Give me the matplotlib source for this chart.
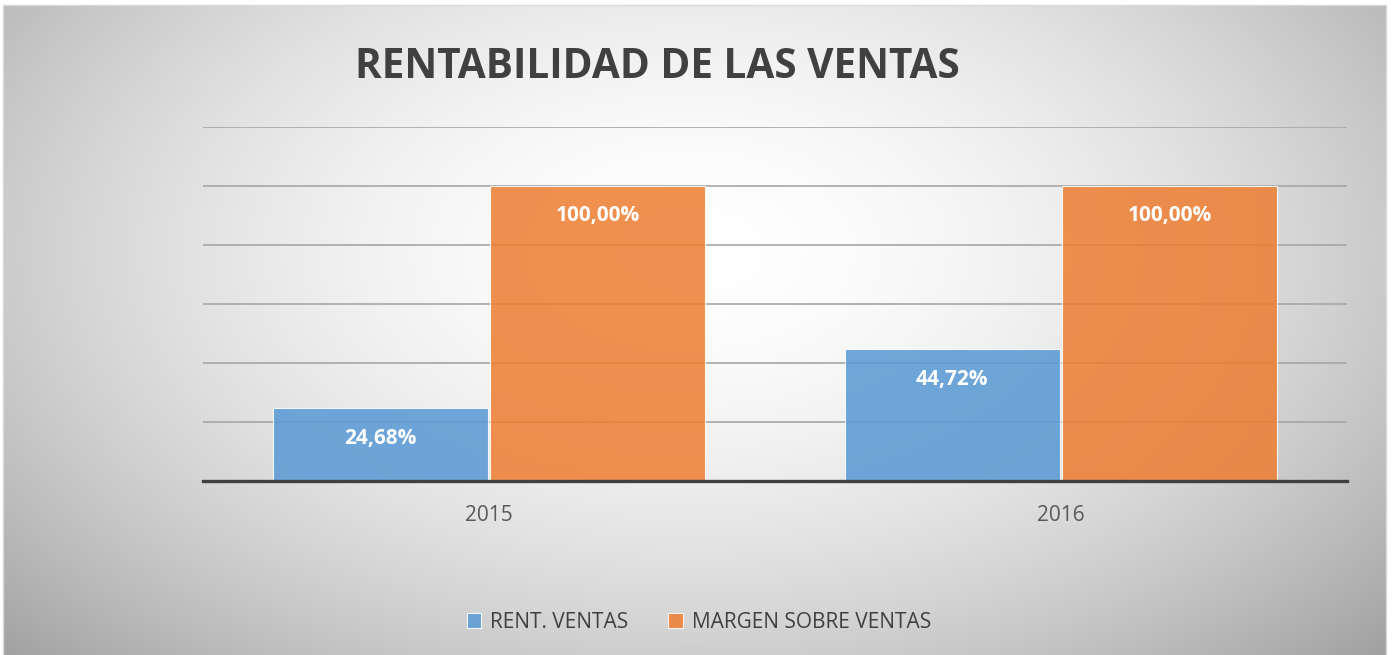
import numpy as np
import matplotlib
matplotlib.use("Agg")
import matplotlib.pyplot as plt

categories = ["2015", "2016"]
rent_ventas = [0.2468, 0.4472]
margen_ventas = [1.0, 1.0]
series_names = ["RENT. VENTAS", "MARGEN SOBRE VENTAS"]
title = "RENTABILIDAD DE LAS VENTAS"

W, H = 1394, 655
fig = plt.figure(figsize=(W / 100, H / 100), dpi=100)
fig.patch.set_facecolor("white")

# background gradient panel
bg = fig.add_axes([0, 0, 1, 1], zorder=0)
bg.set_xlim(0, W)
bg.set_ylim(H, 0)
bg.axis("off")
x0, x1, y0, y1 = 3, 1386, 5, 655
xs = np.linspace(x0, x1, 400)
ys = np.linspace(y0, y1, 200)
X, Y = np.meshgrid(xs, ys)
r = np.sqrt(((X - 690) / 740) ** 2 + ((Y - 250) / 450) ** 2)
val = 1.0 - 0.23 * np.clip(r, 0, 1.3) ** 1.8
img = np.dstack([val, val, val])
bg.imshow(img, extent=(x0, x1, y1, y0), aspect="auto", interpolation="bilinear")
bg.plot([x0, x1], [y0, y0], color="#d9d9d9", lw=1)
bg.plot([x0, x0], [y0, y1], color="#d9d9d9", lw=1)
bg.plot([x1, x1], [y0, y1], color="#d9d9d9", lw=1)

ax = fig.add_axes([203 / W, 1 - 481 / H, (1347 - 203) / W, (481 - 127) / H], zorder=1)
ax.patch.set_alpha(0)
ax.set_xlim(-0.5, 1.5)
ax.set_ylim(0, 1.2)
for s in ax.spines.values():
    s.set_visible(False)
ax.set_yticks(np.arange(0.2, 1.21, 0.2))
ax.yaxis.grid(True, color="#a6a6a6", lw=1.2)
ax.set_axisbelow(True)
ax.tick_params(axis="y", left=False, labelleft=False)
ax.tick_params(axis="x", length=0, pad=17, labelsize=15, labelcolor="#595959")

x = np.arange(len(categories))
w = 0.376
b1 = ax.bar(x - w / 2 - 0.002, rent_ventas, w, color="#5B9BD5", alpha=0.88,
            edgecolor="#ffffff", linewidth=0.8, label=series_names[0], zorder=2)
b2 = ax.bar(x + w / 2 + 0.002, margen_ventas, w, color="#ED7D31", alpha=0.85,
            edgecolor="#ffffff", linewidth=0.8, label=series_names[1], zorder=2)
ax.axhline(0, color="#404040", lw=2.4, zorder=3, clip_on=False)
ax.set_xticks(x)
ax.set_xticklabels(categories, fontfamily="Open Sans")

for bars, vals in ((b1, rent_ventas), (b2, margen_ventas)):
    for bar, v in zip(bars, vals):
        lbl = f"{v * 100:.2f}%".replace(".", ",")
        ax.annotate(lbl, (bar.get_x() + bar.get_width() / 2, v),
                    xytext=(0, -30), textcoords="offset pixels",
                    ha="center", va="center", color="white",
                    fontsize=15, fontweight="bold", fontfamily="Open Sans", zorder=4)

fig.text(657 / W, 1 - 68 / H, title, ha="center", va="center",
         fontsize=29.2, fontweight="bold", color="#404040", fontfamily="Open Sans")

leg = fig.legend(handles=[b1, b2], labels=series_names, loc="center",
                 bbox_to_anchor=(699 / W, 1 - 622 / H), ncol=2, frameon=False,
                 prop={"family": "Open Sans", "size": 15}, handlelength=0.7,
                 handleheight=0.7, columnspacing=1.9, handletextpad=0.45)
for t in leg.get_texts():
    t.set_color("#404040")

fig.savefig("out.png", dpi=100)
